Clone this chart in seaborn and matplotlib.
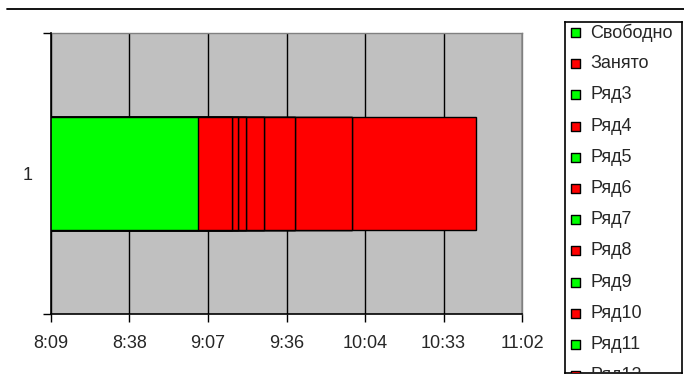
import numpy as np
import pandas as pd
import seaborn as sns
import matplotlib.pyplot as plt
from matplotlib.lines import Line2D
from matplotlib.ticker import FixedLocator, FuncFormatter

# durations in minutes; first series is the start time (minutes from midnight)
SERIES = ['Свободно', 'Занято', 'Ряд3', 'Ряд4', 'Ряд5', 'Ряд6', 'Ряд7',
          'Ряд8', 'Ряд9', 'Ряд10', 'Ряд11', 'Ряд12', 'Ряд13', 'Ряд14']
VALUES = [543.6, 12.3, 0, 2.3, 0, 2.8, 0, 6.8, 0, 11.4, 0, 20.9, 0, 45.6]
COLORS = ['#00ff00', '#ff0000'] * 7
CATEGORY = '1'
X_TICKS = [489.6, 518.4, 547.2, 576.0, 604.8, 633.6, 662.4]

sns.set_style('white')
plt.rcParams['font.family'] = ['Liberation Sans', 'DejaVu Sans']
FS = 13

fig = plt.figure(figsize=(6.84, 3.83), dpi=100)
ax = fig.add_axes([51 / 684, 1 - 314 / 383, 471 / 684, 281 / 383])
ax.set_facecolor('#c0c0c0')

df = pd.DataFrame({'series': SERIES, 'value': VALUES, 'color': COLORS})
df['cum'] = df['value'].cumsum()
df['cat'] = CATEGORY

# stacked bars: draw cumulative totals from the largest down
for i in range(len(df) - 1, -1, -1):
    row = df.iloc[[i]]
    sns.barplot(data=row, x='cum', y='cat', orient='h', color=row['color'].iloc[0],
                edgecolor='black', linewidth=1, width=0.4, saturation=1, ax=ax,
                zorder=3)

ax.set_xlim(X_TICKS[0], X_TICKS[-1])
ax.set_ylim(0.5, -0.5)
ax.set_xlabel('')
ax.set_ylabel('')

ax.xaxis.set_major_locator(FixedLocator(X_TICKS))
ax.xaxis.set_major_formatter(FuncFormatter(
    lambda v, p: '%d:%02d' % (int(v // 60), int(v % 60))))
ax.tick_params(axis='x', direction='out', length=6, width=1, color='black',
               labelsize=FS, pad=9, bottom=True)
ax.set_yticks([0])
ax.set_yticklabels([CATEGORY])
ax.yaxis.set_minor_locator(FixedLocator([-0.5, 0.5]))
ax.tick_params(axis='y', which='major', length=0, labelsize=FS, pad=13)
ax.tick_params(axis='y', which='minor', direction='out', length=6, width=1,
               color='black', left=True)

ax.grid(axis='x', color='black', linewidth=1)
ax.grid(axis='y', visible=False)
ax.set_axisbelow(True)
for s in ['left', 'bottom']:
    ax.spines[s].set_color('black')
    ax.spines[s].set_linewidth(1.2)
    ax.spines[s].set_zorder(5)
for s in ['top', 'right']:
    ax.spines[s].set_color('#808080')
    ax.spines[s].set_linewidth(1)

# line along the top of the picture
fig.add_artist(Line2D([7 / 684, 1], [1 - 9 / 383, 1 - 9 / 383], color='black',
                      linewidth=1.3))

# legend box (clipped at the bottom as in the original)
lax = fig.add_axes([565 / 684, 1 - 373 / 383, 117 / 684, 351 / 383])
lax.set_xlim(0, 117)
lax.set_ylim(351, 0)
lax.set_xticks([])
lax.set_yticks([])
lax.set_facecolor('white')
for s in lax.spines.values():
    s.set_color('black')
    s.set_linewidth(1.2)
rows = 10.5 + 31.2 * np.arange(len(SERIES))
lax.scatter(np.full(len(SERIES), 10.5), rows, marker='s', s=42, c=COLORS,
            edgecolors='black', linewidths=1, clip_on=True, zorder=3)
for name, yy in zip(SERIES, rows):
    t = lax.text(25.5, yy, name, fontsize=FS, va='center', ha='left')
    t.set_clip_on(True)
    t.set_clip_box(lax.bbox)

fig.savefig('out.png', dpi=100)
